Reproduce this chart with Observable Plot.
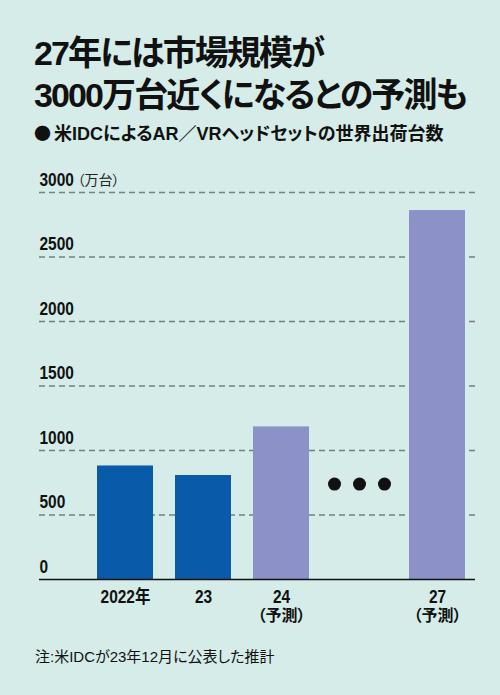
<!DOCTYPE html>
<html><head><meta charset="utf-8">
<script src="https://cdn.jsdelivr.net/npm/d3@7"></script>
<script src="https://cdn.jsdelivr.net/npm/@observablehq/plot@0.6"></script>
<style>
html,body{margin:0;padding:0;}
#wrap{position:relative;width:500px;height:695px;background:#d5ece8;overflow:hidden;
  font-family:"Liberation Sans","Noto Sans CJK JP",sans-serif;color:#111;font-feature-settings:"palt";}
#title{position:absolute;left:34px;top:33px;font-size:34px;font-weight:700;line-height:41.6px;letter-spacing:-1.9px;white-space:nowrap;}
#sub{position:absolute;left:34px;top:121px;font-size:18px;font-weight:700;line-height:24px;white-space:nowrap;}
#sub .dot{font-family:"Noto Sans CJK JP",sans-serif;font-size:17px;margin-right:3px;}
#note{position:absolute;left:35px;top:647px;font-size:15px;line-height:20px;}
#chart{position:absolute;left:0;top:150px;}
#chart svg{overflow:visible;}
</style></head>
<body>
<div id="wrap">
  <div id="title">27年には市場規模が<br>3000万台近くになるとの予測も</div>
  <div id="sub"><span class="dot">●</span>米IDCによるAR／VRヘッドセットの世界出荷台数</div>
  <div id="chart"></div>
  <div id="note">注:米IDCが23年12月に公表した推計</div>
</div>
<script>
const categories = ["2022", "23", "24", "gap", "27"];
const tickLabels = ["2022年", "23", "24", "", "27"];
const subLabels = ["", "", "（予測）", "", "（予測）"];
const values = [880, 806, 1183, null, 2860];
const isForecast = [false, false, true, null, true];
const yTicks = [0, 500, 1000, 1500, 2000, 2500, 3000];
const yUnit = "（万台）";
const ellipsisCategory = "gap";
const ellipsisValue = 740;
const ellipsisOffsets = [-25, 0, 25];

const bars = categories.map((c, i) => ({cat: c, value: values[i], forecast: isForecast[i]}))
  .filter(d => d.value != null);
const labels = categories.map((c, i) => ({cat: c, label: tickLabels[i], sub: subLabels[i]}));

const numFont = '"Liberation Sans","Noto Sans CJK JP",sans-serif';

const chart = Plot.plot({
  width: 500,
  height: 480,
  marginTop: 42,
  marginBottom: 51,
  marginLeft: 39,
  marginRight: 25,
  style: {background: "transparent", fontFamily: numFont, overflow: "visible"},
  x: {domain: categories, range: [96, 465], paddingInner: 0.284, paddingOuter: 0, axis: null},
  y: {domain: [0, 3000], axis: null},
  marks: [
    Plot.ruleY(yTicks.filter(d => d > 0), {stroke: "#6e8380", strokeWidth: 1.4, strokeDasharray: "6,4"}),
    Plot.barY(bars, {x: "cat", y: "value", fill: d => d.forecast ? "#8c91c8" : "#0a5aaa"}),
    Plot.ruleY([0], {stroke: "#111", strokeWidth: 1.6}),
    Plot.text(yTicks, {y: d => d, frameAnchor: "left", text: d => String(d), textAnchor: "start",
      lineAnchor: "bottom", dy: -7, fontSize: 18, fontWeight: 700, fill: "#111", className: "condensed"}),
    Plot.text([yTicks[yTicks.length - 1]], {y: d => d, frameAnchor: "left", text: () => yUnit, textAnchor: "start",
      lineAnchor: "bottom", dx: 38, dy: -8, fontSize: 14, fontWeight: 400, fill: "#222",
      fontFamily: '"Noto Sans CJK JP",sans-serif'}),
    ...ellipsisOffsets.map(o => Plot.dot([ellipsisValue], {x: () => ellipsisCategory, y: d => d, r: 6.5, fill: "#111", dx: o})),
    Plot.text(labels, {x: "cat", y: () => 0, text: "label", lineAnchor: "top", dy: 10.5, fontSize: 18, fontWeight: 700, fill: "#111", className: "condensed"}),
    Plot.text(labels, {x: "cat", y: () => 0, text: "sub", lineAnchor: "top", dy: 30.5, fontSize: 16, fontWeight: 700, fill: "#111",
      fontFamily: '"Noto Sans CJK JP",sans-serif'})
  ]
});
d3.select(chart).selectAll(".condensed text").each(function() {
  const t = this.getAttribute("transform") || "";
  this.setAttribute("transform", t + " scale(0.86,1)");
});
document.getElementById("chart").appendChild(chart);
</script>
</body></html>
